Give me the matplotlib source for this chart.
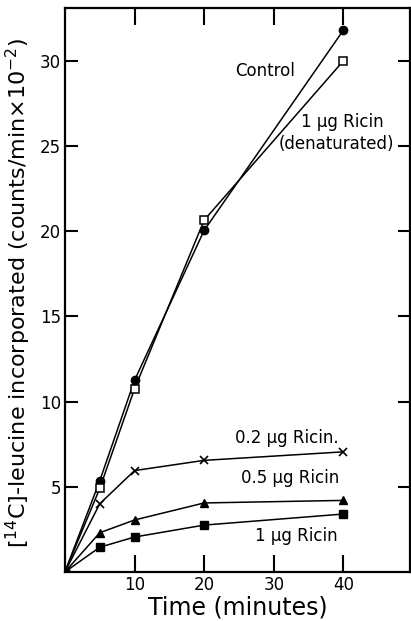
import numpy as np
import matplotlib.pyplot as plt

# Время (минуты) и включение [14C]-лейцина
time = [0, 5, 10, 20, 40]
control = [0, 5.35, 11.25, 20.05, 31.8]
denatured = [0, 4.9, 10.75, 20.65, 30.0]
ricin_02 = [0, 4.0, 5.95, 6.55, 7.05]
ricin_05 = [0, 2.3, 3.05, 4.05, 4.2]
ricin_1 = [0, 1.45, 2.05, 2.75, 3.4]

plt.rcParams['font.family'] = ['DejaVu Sans']
fig = plt.figure(figsize=(4.11, 6.21), dpi=100)
ax = fig.add_axes([0.158, 0.079, 0.84, 0.908])

ax.plot(time, control, '-', color='black', lw=1.1, marker='o', ms=6)
ax.plot(time, denatured, '-', color='black', lw=1.1, marker='s', ms=6,
        markerfacecolor='white', markeredgewidth=1.1)
ax.plot(time, ricin_02, '-', color='black', lw=1.1, marker='x', ms=6,
        markeredgewidth=1.2)
ax.plot(time, ricin_05, '-', color='black', lw=1.1, marker='^', ms=6)
ax.plot(time, ricin_1, '-', color='black', lw=1.1, marker='s', ms=5.5)

ax.set_xlim(0, 49.6)
ax.set_ylim(0, 33.1)
ax.set_xticks([10, 20, 30, 40])
ax.set_yticks([5, 10, 15, 20, 25, 30])
ax.tick_params(direction='in', length=9, width=1.5, labelsize=12,
               top=True, right=True, pad=3)
ax.tick_params(axis='x', length=12)
for s in ax.spines.values():
    s.set_linewidth(1.6)

ax.text(28.8, 29.4, 'Control', fontsize=12, ha='center', va='center')
ax.text(39.8, 26.4, '1 µg Ricin', fontsize=12, ha='center', va='center')
ax.text(39.0, 25.1, '(denaturated)', fontsize=12, ha='center', va='center')
ax.text(31.9, 7.85, '0.2 µg Ricin.', fontsize=12, ha='center', va='center')
ax.text(32.4, 5.5, '0.5 µg Ricin', fontsize=12, ha='center', va='center')
ax.text(33.2, 2.1, '1 µg Ricin', fontsize=12, ha='center', va='center')

ax.set_xlabel('Time (minutes)', fontsize=17, labelpad=1)
ax.set_ylabel('[$^{14}$C]-leucine incorporated (counts/min×10$^{-2}$)',
              fontsize=16)
ax.yaxis.set_label_coords(-0.092, 0.495)

plt.savefig('out.png', dpi=100)
